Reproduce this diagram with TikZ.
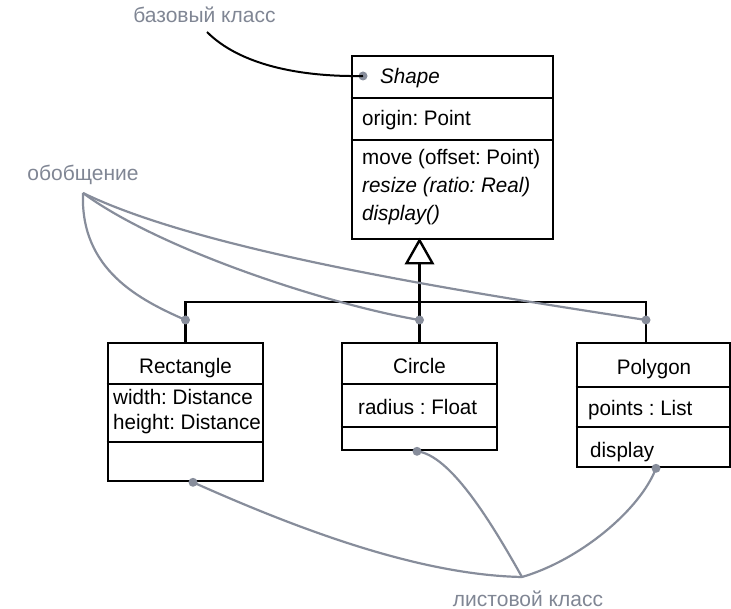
\documentclass[tikz,border=0pt]{standalone}
\usepackage{fontspec}
\setmainfont[FakeStretch=0.98]{Liberation Sans}
\newfontfamily\labelfont{Liberation Sans}
\usetikzlibrary{arrows.meta}
\definecolor{annot}{RGB}{135,141,155}
\definecolor{annottext}{RGB}{128,134,148}
\frenchspacing
\begin{document}
\begin{tikzpicture}[x=1pt,y=-1pt,
  box/.style={draw=black,line width=2.6pt,inner sep=0pt,rectangle},
  divider/.style={draw=black,line width=2.6pt},
  txt/.style={anchor=base west,inner sep=0pt,font=\fontsize{21}{25}\selectfont},
  ttl/.style={anchor=base,inner sep=0pt,font=\fontsize{21}{25}\selectfont},
  lbl/.style={anchor=base,inner sep=0pt,text=annottext,font=\labelfont\fontsize{21}{25}\selectfont},
  dot/.style={circle,fill=annot,inner sep=0pt,minimum size=9pt},
  note/.style={draw=annot,line width=2.2pt},
  tree/.style={draw=black,line width=2.6pt},
]
\useasboundingbox (0,0) rectangle (731,609);

% class boxes
\node[box,minimum width=201pt,minimum height=183pt] (shape) at (452.5,147.5) {};
\node[box,minimum width=155pt,minimum height=138pt] (rect) at (185.5,412) {};
\node[box,minimum width=155pt,minimum height=107pt] (circ) at (419.5,396.5) {};
\node[box,minimum width=153pt,minimum height=124pt] (poly) at (653.5,405) {};

% dividers
\draw[divider] (shape.west |- 0,98) -- (shape.east |- 0,98);
\draw[divider] (shape.west |- 0,140) -- (shape.east |- 0,140);
\draw[divider] (rect.west |- 0,384) -- (rect.east |- 0,384);
\draw[divider] (rect.west |- 0,442) -- (rect.east |- 0,442);
\draw[divider] (circ.west |- 0,384) -- (circ.east |- 0,384);
\draw[divider] (circ.west |- 0,427) -- (circ.east |- 0,427);
\draw[divider] (poly.west |- 0,387) -- (poly.east |- 0,387);
\draw[divider] (poly.west |- 0,427) -- (poly.east |- 0,427);

% texts
\node[txt,font=\fontsize{21}{25}\selectfont\itshape] (tshape) at (380,84) {Shape};
\node[txt] (torigin) at (362,126) {origin: Point};
\node[txt] (tmove) at (362,164.5) {move (offset: Point)};
\node[txt,font=\fontsize{21}{25}\selectfont\itshape] (tresize) at (362,193) {resize (ratio: Real)};
\node[txt,font=\fontsize{21}{25}\selectfont\itshape] (tdisplay) at (362,221) {display()};

\node[ttl] (trect) at (185.5,374) {Rectangle};
\node[txt] (twidth) at (113,405) {width: Distance};
\node[txt] (theight) at (113,430) {height: Distance};

\node[ttl] (tcirc) at (419.5,374) {Circle};
\node[txt] (tradius) at (358,414) {radius : Float};

\node[ttl] (tpoly) at (654,375) {Polygon};
\node[txt] (tpoints) at (588,416) {points : List};
\node[txt] (tdisp) at (590,457) {display};

% generalization tree
\coordinate (bar) at (0,302);
\coordinate (apex) at (circ.north |- shape.south);
\draw[tree] (circ.north) -- (apex);
\draw[tree] (rect.north) -- (rect.north |- bar) -- ([xshift=-7.5pt]poly.north |- bar) -- ([xshift=-7.5pt]poly.north);
\fill[white] ([shift={(0pt,-2pt)}]apex) -- ([shift={(-13pt,-23pt)}]apex) -- ([shift={(13pt,-23pt)}]apex) -- cycle;
\draw[line width=2.4pt,fill=white,line join=miter]
  (apex) -- ([shift={(-13pt,-23pt)}]apex) -- ([shift={(13pt,-23pt)}]apex) -- cycle;

% annotation labels
\node[lbl] (lbase) at (204.5,23) {базовый класс};
\node[lbl] (lgen) at (83,181) {обобщение};
\node[lbl] (lleaf) at (528,606) {листовой класс};
\coordinate (cbase) at (207,32);
\coordinate (cgen) at (83,193);
\coordinate (cleaf) at (522,577);

% dots
\node[dot] (sdot) at (363,76) {};
\node[dot] (g1) at (rect.north |- 0,320) {};
\node[dot] (g2) at (circ.north |- 0,320) {};
\node[dot] (g3) at ([xshift=-7.5pt]poly.north |- 0,320) {};
\node[dot] (f1) at ([xshift=7.5pt]rect.south) {};
\node[dot] (f2) at ([xshift=-2.5pt]circ.south) {};
\node[dot] (f3) at ([xshift=2.5pt]poly.south) {};

% annotation curves
\draw[black,line width=2pt] (cbase) .. controls (240,65) and (300,77) .. (sdot.center);
\draw[note] (cgen) .. controls (80,270) and (140,300) .. (g1.center);
\draw[note] (cgen) .. controls (160,250) and (330,305) .. (g2.center);
\draw[note] (cgen) .. controls (200,250) and (450,290) .. (g3.center);
\draw[note] (f1.center) .. controls (300,530) and (420,575) .. (cleaf);
\draw[note] (f2.center) .. controls (450,455) and (490,520) .. (cleaf);
\draw[note] (f3.center) .. controls (640,510) and (580,560) .. (cleaf);
\end{tikzpicture}
\end{document}
